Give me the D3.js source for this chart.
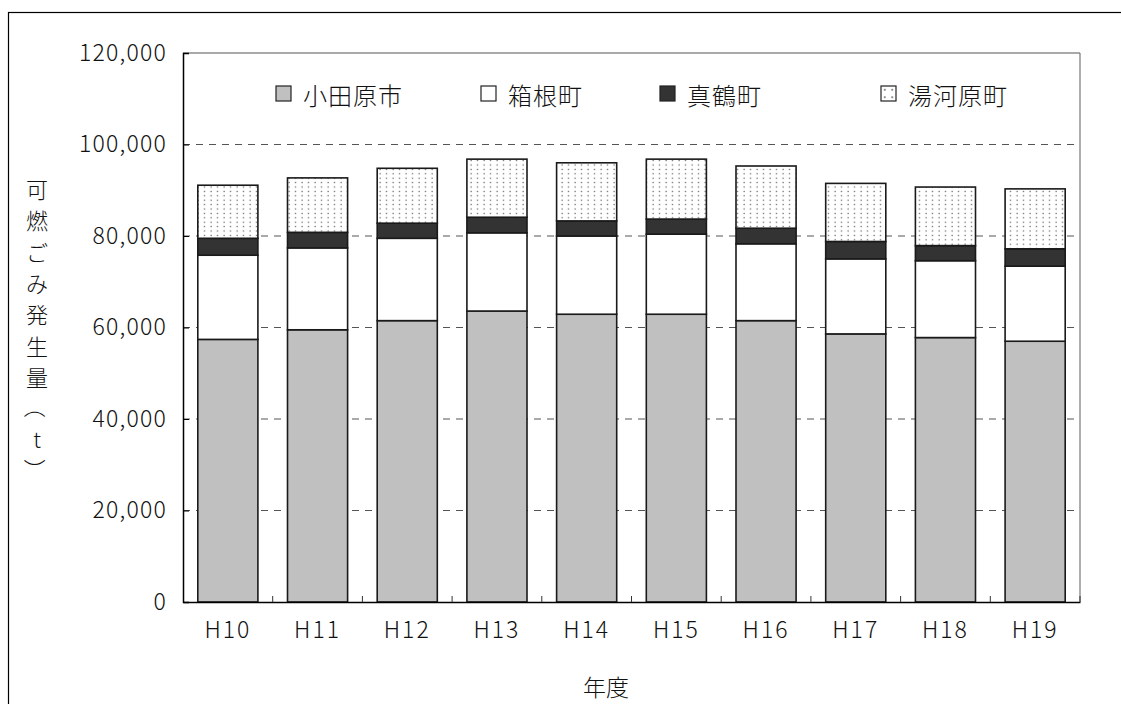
<!DOCTYPE html>
<html>
<head>
<meta charset="utf-8">
<script src="https://cdn.jsdelivr.net/npm/d3@7/dist/d3.min.js"></script>
<style>
  body { margin: 0; background: #fff; }
  svg { display: block; }
  text { font-family: "Noto Sans CJK JP", "Noto Sans", sans-serif; font-weight: 300; fill: #111; }
</style>
</head>
<body>
<svg id="chart" width="1121" height="704"></svg>
<script>
// data (tonnes)
const years = ["H10", "H11", "H12", "H13", "H14", "H15", "H16", "H17", "H18", "H19"];
const odawara  = [57400, 59500, 61500, 63600, 62900, 62900, 61500, 58600, 57800, 57000];
const hakone   = [18400, 17900, 18000, 17100, 17100, 17500, 16800, 16400, 16800, 16400];
const manazuru = [3700, 3400, 3300, 3400, 3300, 3300, 3400, 3800, 3300, 3800];
const yugawara = [11600, 11900, 12000, 12700, 12700, 13100, 13600, 12700, 12800, 13100];
const seriesNames = ["小田原市", "箱根町", "真鶴町", "湯河原町"];
const yTicks = [0, 20000, 40000, 60000, 80000, 100000, 120000];

const svg = d3.select("#chart");
const plot = { left: 183, top: 53, right: 1080, bottom: 602 };

// dotted fill for 湯河原町
const defs = svg.append("defs");
const pat = defs.append("pattern")
    .attr("id", "dots")
    .attr("patternUnits", "userSpaceOnUse")
    .attr("width", 6.5)
    .attr("height", 4.4);
pat.append("rect").attr("width", 6.5).attr("height", 4.4).attr("fill", "#fff");
pat.append("rect").attr("x", 2.5).attr("y", 1.6).attr("width", 1.2).attr("height", 1.2).attr("fill", "#555");

// bigger dots for the legend swatch
const patL = defs.append("pattern")
    .attr("id", "dotsLegend")
    .attr("patternUnits", "userSpaceOnUse")
    .attr("x", 0).attr("y", 0)
    .attr("width", 7.5)
    .attr("height", 7.5);
patL.append("rect").attr("width", 7.5).attr("height", 7.5).attr("fill", "#fff");
patL.append("rect").attr("x", 3).attr("y", 3).attr("width", 1.5).attr("height", 1.5).attr("fill", "#444");

const fills = ["#c0c0c0", "#ffffff", "#333333", "url(#dots)"];

// outer frame (runs off the right and bottom)
svg.append("rect")
    .attr("x", 8.5).attr("y", 12.5)
    .attr("width", 1200).attr("height", 800)
    .attr("fill", "none").attr("stroke", "#000").attr("stroke-width", 1.2);

const x = d3.scaleBand()
    .domain(years)
    .range([plot.left, plot.right])
    .paddingInner(0.33)
    .paddingOuter(0.165);

const y = d3.scaleLinear()
    .domain([0, 120000])
    .range([plot.bottom, plot.top]);

// plot frame: top and right in grey
svg.append("line")
    .attr("x1", plot.left).attr("x2", plot.right)
    .attr("y1", y(120000)).attr("y2", y(120000))
    .attr("stroke", "#555").attr("stroke-width", 1.2);
svg.append("line")
    .attr("x1", plot.right).attr("x2", plot.right)
    .attr("y1", plot.top).attr("y2", plot.bottom)
    .attr("stroke", "#777").attr("stroke-width", 1.2);

// dashed gridlines
svg.append("g")
    .selectAll("line")
    .data(yTicks.filter(d => d > 0 && d < 120000))
    .enter()
    .append("line")
    .attr("x1", plot.left).attr("x2", plot.right)
    .attr("y1", d => y(d)).attr("y2", d => y(d))
    .attr("stroke", "#555")
    .attr("stroke-width", 1)
    .attr("stroke-dasharray", "7,6");

// stack the four series
const rows = years.map((yr, i) => ({
    year: yr,
    s0: odawara[i], s1: hakone[i], s2: manazuru[i], s3: yugawara[i]
}));
const stacked = d3.stack().keys(["s0", "s1", "s2", "s3"])(rows);

svg.append("g")
    .selectAll("g")
    .data(stacked)
    .enter()
    .append("g")
    .attr("fill", (d, i) => fills[i])
    .selectAll("rect")
    .data(d => d)
    .enter()
    .append("rect")
    .attr("x", d => x(d.data.year))
    .attr("y", d => y(d[1]))
    .attr("width", x.bandwidth())
    .attr("height", d => y(d[0]) - y(d[1]))
    .attr("stroke", "#1a1a1a")
    .attr("stroke-width", 1.6);

// y axis, ticks pointing inward
const yAxis = svg.append("g")
    .attr("transform", `translate(${plot.left},0)`)
    .call(d3.axisLeft(y).tickValues(yTicks).tickFormat(d3.format(",")).tickSize(-6).tickPadding(16));
yAxis.select(".domain").attr("stroke", "#000").attr("stroke-width", 1.5);
yAxis.selectAll(".tick line").attr("stroke", "#000");
yAxis.selectAll("text")
    .style("font-family", "'Noto Sans CJK JP', sans-serif")
    .style("font-weight", "300")
    .style("font-size", "23px")
    .attr("letter-spacing", "1.2px")
    .attr("fill", "#222");

// x axis
const xAxis = svg.append("g")
    .attr("transform", `translate(0,${plot.bottom})`)
    .call(d3.axisBottom(x).tickSize(0).tickPadding(20));
xAxis.select(".domain").attr("stroke", "#000").attr("stroke-width", 1.5);
xAxis.selectAll("text")
    .style("font-family", "'Noto Sans CJK JP', sans-serif")
    .style("font-weight", "300")
    .style("font-size", "23px")
    .attr("letter-spacing", "2px")
    .attr("fill", "#222");

// inward ticks between the categories
const step = x.step();
svg.append("g")
    .selectAll("line")
    .data(d3.range(1, years.length + 1))
    .enter()
    .append("line")
    .attr("x1", i => plot.left + i * step)
    .attr("x2", i => plot.left + i * step)
    .attr("y1", plot.bottom)
    .attr("y2", plot.bottom - 6)
    .attr("stroke", "#333");

// legend
const legendX = [276, 481, 660, 881];
const legendFills = ["#c0c0c0", "#ffffff", "#333333", "url(#dotsLegend)"];
const legend = svg.append("g")
    .selectAll("g")
    .data(seriesNames)
    .enter()
    .append("g")
    .attr("transform", (d, i) => `translate(${legendX[i]},86)`);
legend.append("rect")
    .attr("width", 15).attr("height", 15)
    .attr("fill", (d, i) => legendFills[i])
    .attr("stroke", "#222").attr("stroke-width", 1.2);
legend.append("text")
    .attr("x", 27)
    .attr("y", 8)
    .attr("dominant-baseline", "central")
    .attr("letter-spacing", "1px")
    .style("font-size", "24px")
    .text(d => d);

// y title, set vertically one character at a time; brackets turned for vertical setting
const yTitle = ["可", "燃", "ご", "み", "発", "生", "量", "（", "t", "）"];
svg.append("g")
    .selectAll("text")
    .data(yTitle)
    .enter()
    .append("text")
    .attr("x", 37)
    .attr("y", (d, i) => 188 + i * 31.3)
    .attr("text-anchor", "middle")
    .attr("dominant-baseline", "central")
    .attr("transform", (d, i) => (d === "（" || d === "）") ? `rotate(90,37,${188 + i * 31.3})` : null)
    .style("font-size", "22px")
    .text(d => d);

// x title
svg.append("text")
    .attr("x", 606)
    .attr("y", 686)
    .attr("text-anchor", "middle")
    .attr("dominant-baseline", "central")
    .style("font-size", "23px")
    .text("年度");
</script>
</body>
</html>
